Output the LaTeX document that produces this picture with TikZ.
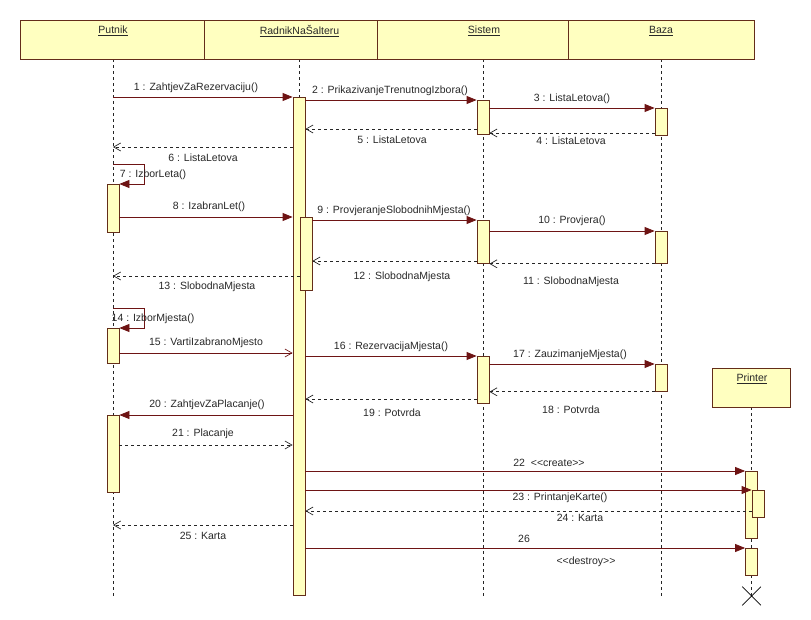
\documentclass[tikz,border=0pt]{standalone}
\usepackage{fontspec}
\setmainfont{Liberation Sans}
\usepackage{xcolor}
\usepackage{tikz}
\usetikzlibrary{arrows.meta}
\usetikzlibrary{shapes.misc}
\definecolor{lifefill}{RGB}{255,255,192}
\definecolor{boxline}{RGB}{100,45,25}
\definecolor{msgline}{RGB}{110,20,20}
\definecolor{txt}{RGB}{40,40,40}
\pgfdeclarelayer{lifelinelayer}
\pgfdeclarelayer{nodelayer}
\pgfsetlayers{lifelinelayer,nodelayer,main}
\tikzset{
  head/.style={draw=boxline, fill=lifefill, inner sep=0pt, minimum height=39pt, line width=0.8pt},
  headtext/.style={font=\fontsize{10.5}{12}\selectfont, text=txt, inner sep=1pt},
  act/.style={draw=boxline, fill=lifefill, inner sep=0pt, minimum width=12pt, anchor=north, line width=0.8pt},
  life/.style={black!85, line width=0.7pt, dash pattern=on 3pt off 3pt},
  call/.style={msgline, line width=0.8pt, -{Triangle[length=10pt,width=8pt]}},
  send/.style={msgline, line width=0.8pt, -{Straight Barb[length=7pt,width=8pt,line width=0.7pt]}},
  ret/.style={black!85, line width=0.7pt, dash pattern=on 3pt off 3pt, -{Straight Barb[length=7pt,width=8pt,line width=0.7pt]}},
  lbl/.style={font=\fontsize{10.5}{12}\selectfont, text=txt, inner sep=1pt},
}

\begin{document}
\begin{tikzpicture}[x=1pt, y=-1pt]
  \useasboundingbox (0,0) rectangle (811,620);
  \begin{pgfonlayer}{nodelayer}
    % lifeline heads
    \node [head, minimum width=184pt] (putnik) at (112,39.5) {};
    \node [head, minimum width=173pt] (radnik) at (290.5,39.5) {};
    \node [head, minimum width=191pt] (sistem) at (472.5,39.5) {};
    \node [head, minimum width=186pt] (baza) at (661,39.5) {};
    \node [head, minimum width=78pt] (printer) at (751,387.5) {};
    % activations
    \node [act, minimum height=48pt] (p1) at (113,184) {};
    \node [act, minimum height=35pt] (p2) at (113,328) {};
    \node [act, minimum height=77pt] (p3) at (113,415) {};
    \node [act, minimum height=498pt] (r1) at (299,97) {};
    \node [act, minimum height=73pt] (r2) at (306,217) {};
    \node [act, minimum height=34pt] (s1) at (483,100) {};
    \node [act, minimum height=43pt] (s2) at (483,220) {};
    \node [act, minimum height=47pt] (s3) at (483,356) {};
    \node [act, minimum height=27pt] (b1) at (661,108) {};
    \node [act, minimum height=32pt] (b2) at (661,231) {};
    \node [act, minimum height=27pt] (b3) at (661,364) {};
    \node [act, minimum height=67pt] (q1) at (751.5,471) {};
    \node [act, minimum height=27pt] (q2) at (758,490) {};
    \node [act, minimum height=27pt] (q3) at (751.5,548) {};
  \end{pgfonlayer}
  \node [headtext] (putnikT) at (113,31) {\underline{Putnik}};
  \node [headtext] (radnikT) at (299.5,31) {\underline{RadnikNaŠalteru}};
  \node [headtext] (sistemT) at (484,31) {\underline{Sistem}};
  \node [headtext] (bazaT) at (661,31) {\underline{Baza}};
  \node [headtext] (printerT) at (752,379) {\underline{Printer}};
  \node [cross out, draw=black, line width=0.7pt, minimum size=18pt, inner sep=0pt] (kill) at (751.5,596) {};

  \begin{pgfonlayer}{lifelinelayer}
    \coordinate (pEnd) at (113,597);
    \coordinate (rEnd) at (299,597);
    \coordinate (sEnd) at (483,597);
    \coordinate (bEnd) at (661,597);
    \draw [life] (pEnd |- putnik.south) -- (pEnd);
    \draw [life] (rEnd |- radnik.south) -- (rEnd);
    \draw [life] (sEnd |- sistem.south) -- (sEnd);
    \draw [life] (bEnd |- baza.south) -- (bEnd);
    \draw [life] (kill |- printer.south) -- (kill.center);
  \end{pgfonlayer}

  % message points
  \coordinate (m1) at (113,97);
  \coordinate (m4) at (661,133);
  \coordinate (m5) at (483,129);
  \coordinate (m6) at (113,147);
  \coordinate (m7) at (113,164);
  \coordinate (m12) at (483,261);
  \coordinate (m13) at (113,276);
  \coordinate (m14) at (113,308);
  \coordinate (m15) at (113,353);
  \coordinate (m19) at (483,399);
  \coordinate (m21) at (113,445);
  \coordinate (m24) at (751.5,511);
  \coordinate (m25) at (113,525);

  \draw [call] (m1) -- (r1.north west);
  \draw [call] (r1.east |- s1.north) -- (s1.north west);
  \draw [call] (s1.east |- b1.north) -- (b1.north west);
  \draw [ret] (b1.west |- m4) -- (s1.east |- m4);
  \draw [ret] (s1.west |- m5) -- (r1.east |- m5);
  \draw [ret] (r1.west |- m6) -- (m6);
  \draw [call] (m7) -- ++(31,0) |- (p1.north east);
  \draw [call] (p1.east |- r2.north) -- (r1.west |- r2.north);
  \draw [call] (r2.east |- s2.north) -- (s2.north west);
  \draw [call] (s2.east |- b2.north) -- (b2.north west);
  \draw [ret] (b2.south west) -- (s2.east |- b2.south);
  \draw [ret] (s2.west |- m12) -- (r2.east |- m12);
  \draw [ret] (r2.west |- m13) -- (m13);
  \draw [call] (m14) -- ++(31,0) |- (p2.north east);
  \draw [send] (p2.east |- m15) -- (r1.west |- m15);
  \draw [call] (r1.east |- s3.north) -- (s3.north west);
  \draw [call] (s3.east |- b3.north) -- (b3.north west);
  \draw [ret] (b3.south west) -- (s3.east |- b3.south);
  \draw [ret] (s3.west |- m19) -- (r1.east |- m19);
  \draw [call] (r1.west |- p3.north) -- (p3.north east);
  \draw [ret] (p3.east |- m21) -- (r1.west |- m21);
  \draw [call] (r1.east |- q1.north) -- (q1.north west);
  \draw [call] (r1.east |- q2.north) -- (q2.north west);
  \draw [ret] (q2.west |- m24) -- (r1.east |- m24);
  \draw [ret] (r1.west |- m25) -- (m25);
  \draw [call] (r1.east |- q3.north) -- (q3.north west);

  % labels
  \node [lbl] (t1) at (196,88) {1 : ZahtjevZaRezervaciju()};
  \node [lbl] (t2) at (390,91) {2 : PrikazivanjeTrenutnogIzbora()};
  \node [lbl] (t3) at (572,99) {3 : ListaLetova()};
  \node [lbl] (t4) at (571,141) {4 : ListaLetova};
  \node [lbl] (t5) at (392,140) {5 : ListaLetova};
  \node [lbl] (t6) at (203,158) {6 : ListaLetova};
  \node [lbl] (t7) at (153,175) {7 : IzborLeta()};
  \node [lbl] (t8) at (209,207) {8 : IzabranLet()};
  \node [lbl] (t9) at (394,211) {9 : ProvjeranjeSlobodnihMjesta()};
  \node [lbl] (t10) at (572,221) {10 : Provjera()};
  \node [lbl] (t11) at (571,282) {11 : SlobodnaMjesta};
  \node [lbl] (t12) at (402,277) {12 : SlobodnaMjesta};
  \node [lbl] (t13) at (207,287) {13 : SlobodnaMjesta};
  \node [lbl] (t14) at (153,319) {14 : IzborMjesta()};
  \node [lbl] (t15) at (206,343) {15 : VartiIzabranoMjesto};
  \node [lbl] (t16) at (391,347) {16 : RezervacijaMjesta()};
  \node [lbl] (t17) at (570,355) {17 : ZauzimanjeMjesta()};
  \node [lbl] (t18) at (571,410) {18 : Potvrda};
  \node [lbl] (t19) at (392,413) {19 : Potvrda};
  \node [lbl] (t20) at (207,405) {20 : ZahtjevZaPlacanje()};
  \node [lbl] (t21) at (203,434) {21 : Placanje};
  \node [lbl] (t22) at (549,463) {22\ \ <{}<create>{}>};
  \node [lbl] (t23) at (560,498) {23 : PrintanjeKarte()};
  \node [lbl] (t24) at (580,518) {24 : Karta};
  \node [lbl] (t25) at (203,536) {25 : Karta};
  \node [lbl] (t26) at (524,539) {26};
  \node [lbl] (t27) at (586,562) {<{}<destroy>{}>};
\end{tikzpicture}
\end{document}
